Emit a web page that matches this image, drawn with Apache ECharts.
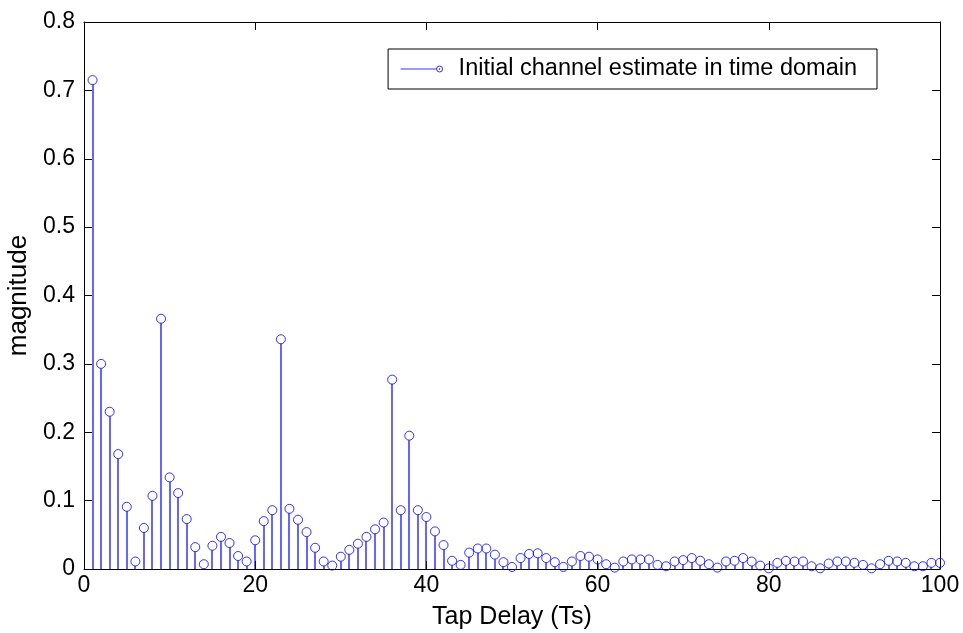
<!DOCTYPE html>
<html>
<head>
<meta charset="utf-8">
<script src="https://cdn.jsdelivr.net/npm/echarts@6/dist/echarts.min.js"></script>
<style>
  body { margin: 0; background: #fff; }
  #chart { width: 963px; height: 633px; }
</style>
</head>
<body>
<div id="chart"></div>
<script>
// tap index (Ts) and estimated magnitude
const taps = [
  1, 2, 3, 4, 5, 6, 7, 8, 9, 10, 11, 12, 13, 14, 15, 16, 17, 18, 19, 20,
  21, 22, 23, 24, 25, 26, 27, 28, 29, 30, 31, 32, 33, 34, 35, 36, 37, 38, 39, 40,
  41, 42, 43, 44, 45, 46, 47, 48, 49, 50, 51, 52, 53, 54, 55, 56, 57, 58, 59, 60,
  61, 62, 63, 64, 65, 66, 67, 68, 69, 70, 71, 72, 73, 74, 75, 76, 77, 78, 79, 80,
  81, 82, 83, 84, 85, 86, 87, 88, 89, 90, 91, 92, 93, 94, 95, 96, 97, 98, 99, 100
];
const magnitude = [
  0.715, 0.300, 0.230, 0.168, 0.091, 0.011, 0.060, 0.107, 0.366, 0.134,
  0.111, 0.073, 0.032, 0.007, 0.034, 0.047, 0.038, 0.019, 0.011, 0.042,
  0.070, 0.086, 0.336, 0.088, 0.072, 0.054, 0.031, 0.011, 0.005, 0.018,
  0.028, 0.037, 0.047, 0.058, 0.068, 0.277, 0.086, 0.195, 0.086, 0.076,
  0.055, 0.035, 0.012, 0.006, 0.024, 0.030, 0.030, 0.021, 0.010, 0.003,
  0.016, 0.022, 0.023, 0.016, 0.010, 0.003, 0.011, 0.019, 0.018, 0.014,
  0.007, 0.002, 0.011, 0.014, 0.014, 0.014, 0.006, 0.004, 0.011, 0.013,
  0.016, 0.012, 0.007, 0.002, 0.011, 0.012, 0.016, 0.011, 0.005, 0.001,
  0.009, 0.012, 0.011, 0.011, 0.004, 0.001, 0.008, 0.011, 0.011, 0.009,
  0.006, 0.001, 0.007, 0.012, 0.011, 0.009, 0.004, 0.004, 0.009, 0.009
];
const xTicks = { min: 0, max: 100, interval: 20 };
const yTicks = { min: 0, max: 0.8, interval: 0.1 };
const legendName = 'Initial channel estimate in time domain';

const points = taps.map((t, i) => [t, magnitude[i]]);
const FONT = '"Liberation Sans", Arial, sans-serif';
const BLUE = '#0000ff';
const R = 4.5; // marker radius

const chart = echarts.init(document.getElementById('chart'));

const boxAxis = {
  axisLine: { show: true, onZero: false, lineStyle: { color: '#000', width: 1 } },
  axisTick: { show: true, inside: true, length: 8, lineStyle: { color: '#000' } },
  splitLine: { show: false }
};

chart.setOption({
  animation: false,
  backgroundColor: '#fff',
  grid: { left: 84, right: 23, top: 22, bottom: 64, outerBoundsMode: 'none' },
  xAxis: [
    Object.assign({
      type: 'value', position: 'bottom',
      name: 'Tap Delay (Ts)', nameLocation: 'middle', nameGap: 36,
      nameTextStyle: { fontFamily: FONT, fontSize: 25, color: '#000' },
      axisLabel: { fontFamily: FONT, fontSize: 23, color: '#000', margin: 5 }
    }, xTicks, boxAxis),
    Object.assign({ type: 'value', position: 'top', axisLabel: { show: false } }, xTicks, boxAxis)
  ],
  yAxis: [
    Object.assign({
      type: 'value', position: 'left',
      name: 'magnitude', nameLocation: 'middle', nameGap: 50,
      nameTextStyle: { fontFamily: FONT, fontSize: 26, color: '#000' },
      axisLabel: { fontFamily: FONT, fontSize: 23, color: '#000', margin: 9,
        formatter: v => String(Math.round(v * 10) / 10) }
    }, yTicks, boxAxis),
    Object.assign({ type: 'value', position: 'right', axisLabel: { show: false } }, yTicks, boxAxis)
  ],
  legend: {
    right: 86, top: 49,
    orient: 'vertical',
    backgroundColor: '#fff',
    borderColor: '#000', borderWidth: 1, borderRadius: 0,
    padding: [8, 20, 8, 10],
    itemWidth: 42, itemHeight: 6, itemGap: 0,
    textStyle: { fontFamily: FONT, fontSize: 23.5, color: '#000', padding: [0, 0, 0, 11] },
    data: [{
      name: legendName,
      icon: 'path://M0,4 L36,4 M36,4 a3,3 0 1,0 6,0 a3,3 0 1,0 -6,0 M38.6,4 a0.4,0.4 0 1,0 0.8,0 a0.4,0.4 0 1,0 -0.8,0',
      itemStyle: { color: 'none', borderColor: BLUE, borderWidth: 1 }
    }]
  },
  series: [
    {
      name: 'stems',
      type: 'custom',
      xAxisIndex: 0, yAxisIndex: 0,
      data: points,
      renderItem: (params, api) => {
        const top = api.coord([api.value(0), api.value(1)]);
        const base = api.coord([api.value(0), 0]);
        const x = Math.round(top[0]); // soft 2px stroke, like the anti-aliased reference
        return {
          type: 'line',
          shape: { x1: x, y1: Math.min(top[1] + R, base[1]), x2: x, y2: base[1] },
          style: { stroke: BLUE, fill: null, lineWidth: 1.2 }
        };
      }
    },
    {
      name: legendName,
      type: 'scatter',
      xAxisIndex: 0, yAxisIndex: 0,
      data: points,
      clip: false,
      symbol: 'circle',
      symbolSize: R * 2,
      itemStyle: { color: 'none', borderColor: BLUE, borderWidth: 1 }
    }
  ]
});
</script>
</body>
</html>
